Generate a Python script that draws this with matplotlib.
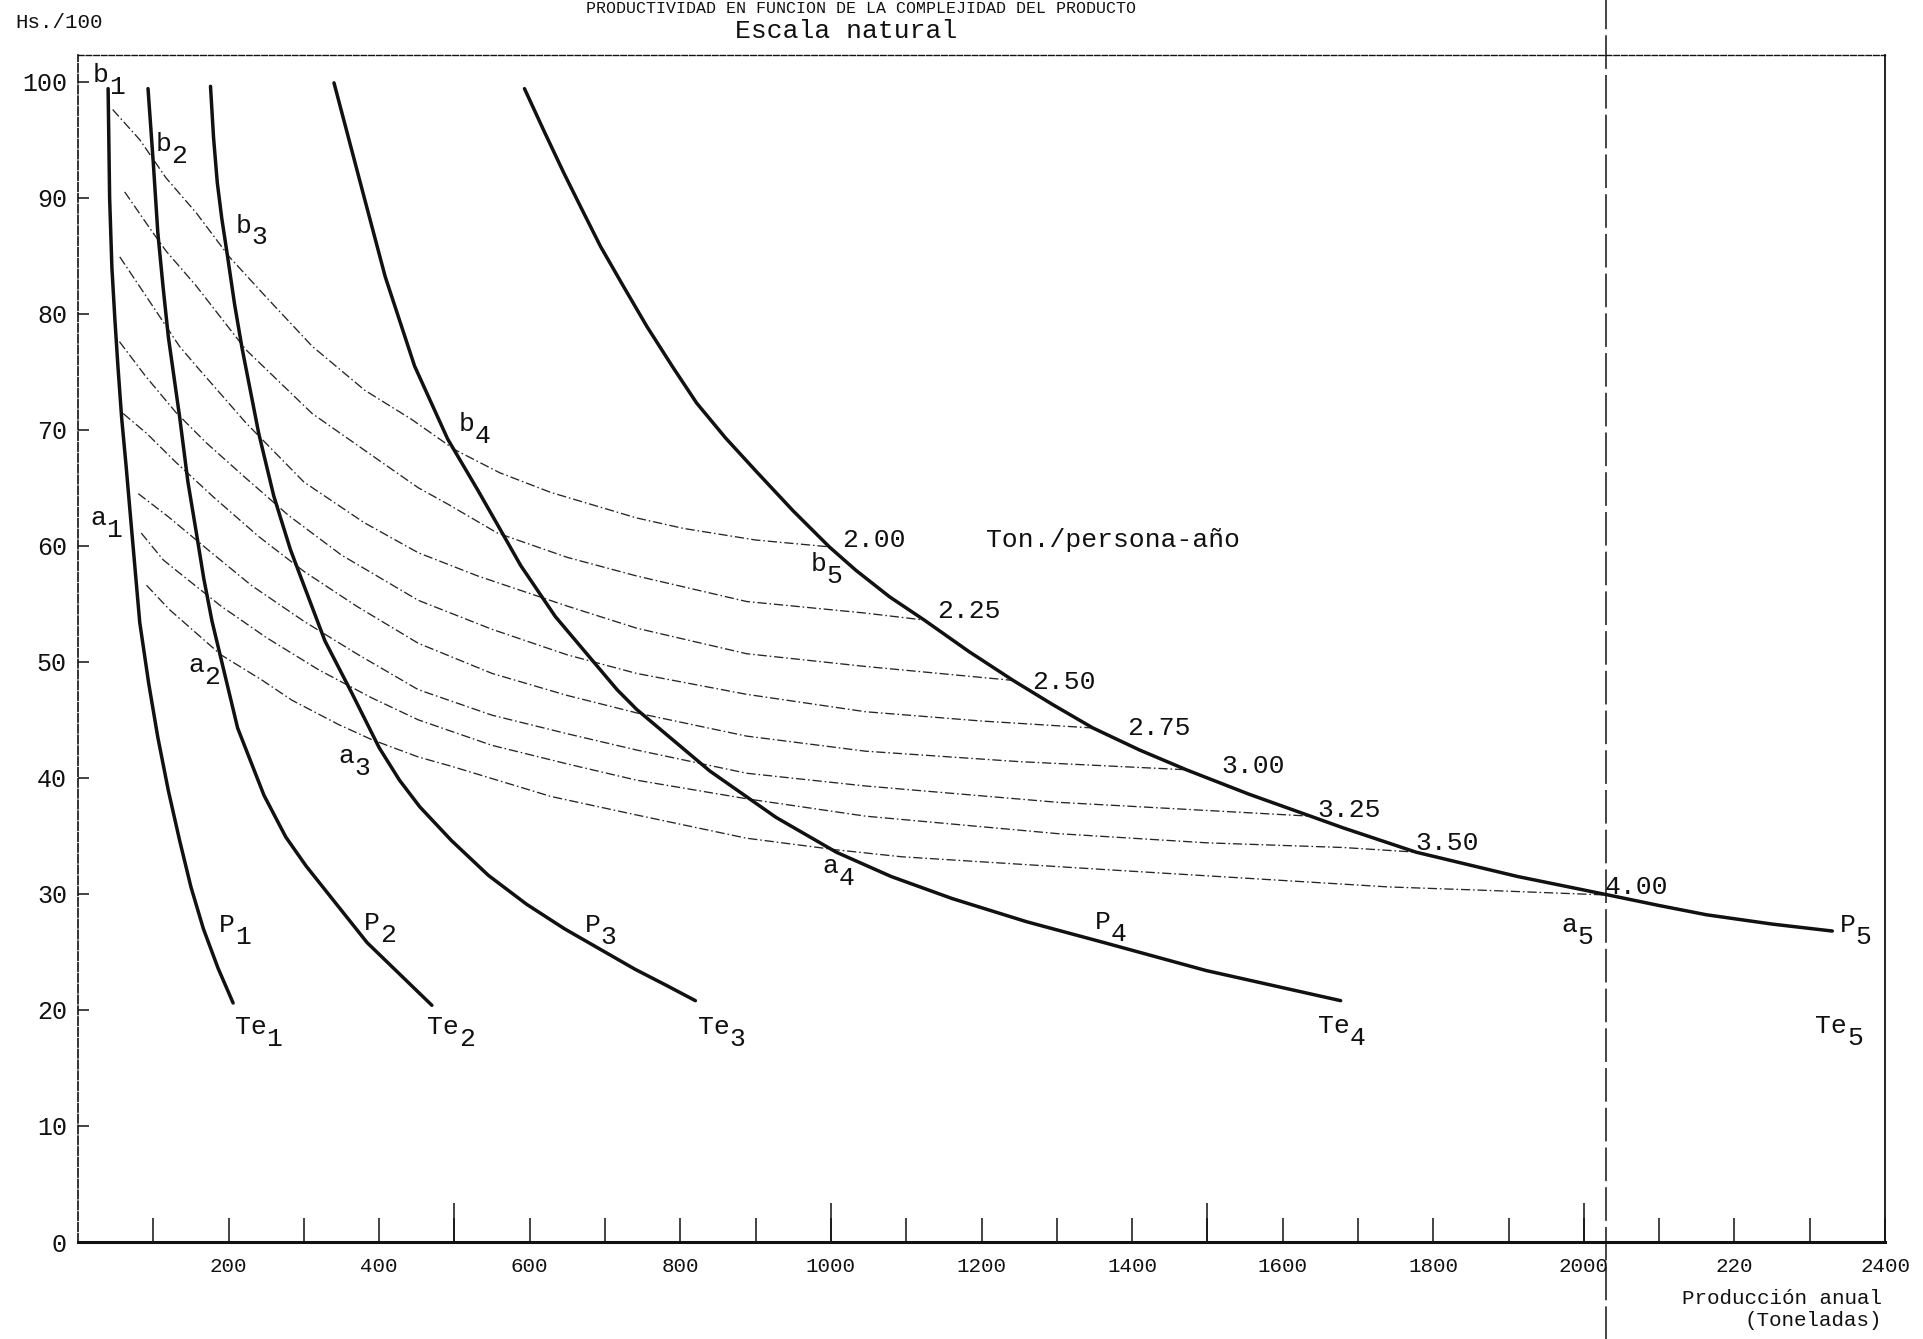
import matplotlib
matplotlib.use("Agg")
import matplotlib.pyplot as plt
from matplotlib import font_manager as fm

plt.rcParams['font.family'] = ['Liberation Mono', 'DejaVu Sans Mono']


def has_font(name):
    try:
        fm.findfont(fm.FontProperties(family=name), fallback_to_default=False)
        return True
    except Exception:
        return False


NARROW = 'Liberation Sans Narrow' if has_font('Liberation Sans Narrow') else None

# ---------------- data ----------------
# Thick curves P1..P5 (x = Producción anual [t], y = Hs./100)
p1_x = [40, 42, 45, 49, 53, 58, 64, 70, 82, 94, 106, 120, 135, 150, 166.5, 186, 206]
p1_y = [99.4, 90, 84, 79.5, 75.5, 71, 66.8, 62.3, 53.4, 48.1, 43.5, 38.9, 34.6, 30.6, 27.0, 23.6, 20.6]

p2_x = [93, 100, 106, 113, 120, 135, 146, 157, 167, 178, 188, 212, 247, 276, 303, 384, 470]
p2_y = [99.4, 93, 87, 82.3, 78, 71.1, 65.5, 61.2, 57.2, 53.5, 50.8, 44.3, 38.5, 34.9, 32.4, 25.8, 20.4]

p3_x = [176, 180, 185, 191, 198.5, 208, 218, 240, 260, 282, 293, 328, 363, 400, 427, 454, 496,
        545, 596, 646, 697, 740, 782, 820]
p3_y = [99.6, 95.2, 91.3, 88.2, 85.0, 80.8, 77, 69.7, 64.3, 59.7, 57.8, 51.8, 47.4, 42.6, 39.8, 37.5, 34.6,
        31.6, 29.1, 27.0, 25.1, 23.5, 22.1, 20.8]

p4_x = [340, 379, 408, 447, 491, 531, 560, 588, 634, 716, 742, 839, 927, 1007, 1080, 1161, 1260,
        1363, 1498, 1677]
p4_y = [99.9, 90.3, 83.2, 75.5, 69.2, 64.8, 61.5, 58.3, 53.9, 47.6, 45.9, 40.6, 36.6, 33.6, 31.5, 29.6, 27.6,
        25.8, 23.4, 20.8]

p5_x = [593, 620, 645.5, 670, 694, 725, 755.6, 790, 821.7, 860, 901, 950, 998, 1033, 1078, 1124, 1183,
        1242, 1295, 1348, 1410, 1472, 1555, 1637, 1680, 1777, 1912, 2033, 2100, 2163, 2250, 2330]
p5_y = [99.4, 95.6, 92.1, 88.9, 85.8, 82.3, 78.9, 75.4, 72.3, 69.3, 66.4, 63.0, 59.9, 57.9, 55.6, 53.6, 50.9,
        48.4, 46.3, 44.3, 42.4, 40.7, 38.6, 36.7, 35.7, 33.6, 31.5, 29.9, 29.0, 28.2, 27.4, 26.8]

# Iso-productivity lines (Ton./persona-año)
l200_x = [46, 82, 117, 157, 201, 249, 311, 381, 443, 500, 560, 628, 742, 804, 900, 1000]
l200_y = [97.6, 95, 91.7, 88.7, 84.9, 81.5, 77.2, 73.4, 70.9, 68.3, 66.3, 64.6, 62.4, 61.5, 60.5, 59.9]

l225_x = [62, 95, 117, 157, 223, 311, 399, 452, 491, 557, 650, 742, 888, 1046, 1124]
l225_y = [90.5, 87.4, 85.4, 82.4, 76.9, 71.4, 67.4, 65.0, 63.6, 61.1, 59.0, 57.4, 55.2, 54.2, 53.6]

l250_x = [55.5, 90.6, 134.7, 157, 223, 300, 380, 452, 531, 650, 742, 888, 1046, 1242]
l250_y = [84.9, 81.5, 77.2, 75.5, 70.6, 65.5, 62.0, 59.4, 57.4, 54.8, 52.9, 50.7, 49.6, 48.4]

l275_x = [55, 90, 130, 170, 220, 280, 350, 452, 550, 650, 742, 888, 1046, 1200, 1348]
l275_y = [77.6, 74.6, 71.5, 68.9, 66.0, 62.6, 59.2, 55.3, 52.8, 50.6, 49.0, 47.2, 45.7, 44.9, 44.3]

l300_x = [60, 91, 130, 180, 240, 300, 370, 452, 550, 650, 742, 888, 1046, 1250, 1472]
l300_y = [71.4, 69.7, 67.2, 64.2, 60.8, 57.8, 54.8, 51.6, 49.0, 47.1, 45.6, 43.6, 42.3, 41.4, 40.7]

l325_x = [80, 120, 170, 230, 300, 370, 452, 550, 650, 742, 888, 1046, 1300, 1637]
l325_y = [64.5, 62.5, 59.8, 56.6, 53.5, 50.7, 47.6, 45.4, 43.8, 42.4, 40.4, 39.3, 37.9, 36.7]

l350_x = [84, 113, 130, 190, 250, 320, 390, 452, 550, 650, 742, 888, 1046, 1300, 1500, 1680, 1777]
l350_y = [61.1, 58.8, 57.9, 54.8, 52.1, 49.3, 46.9, 45.0, 42.8, 41.2, 39.8, 38.2, 36.7, 35.2, 34.4, 34.0, 33.6]

l400_x = [91, 121.5, 190, 245, 284, 346, 390, 452, 496, 628, 742, 888, 1007, 1094, 1363, 1741, 1873, 2033]
l400_y = [56.6, 54.5, 50.6, 48.4, 46.7, 44.6, 43.3, 41.8, 41.0, 38.4, 36.8, 34.8, 33.8, 33.2, 32.1, 30.6, 30.3, 29.9]

prod_labels = ["2.00", "2.25", "2.50", "2.75", "3.00", "3.25", "3.50", "4.00"]

x_tick_values = [200, 400, 600, 800, 1000, 1200, 1400, 1600, 1800, 2000, 2200, 2400]
x_tick_labels = ["200", "400", "600", "800", "1000", "1200", "1400", "1600", "1800", "2000", "220", "2400"]
x_minor_values = [100, 300, 500, 700, 900, 1100, 1300, 1500, 1700, 1900, 2100, 2300]
x_long_ticks = [500, 1000, 1500, 2000]
y_tick_values = [0, 10, 20, 30, 40, 50, 60, 70, 80, 90, 100]
ref_line_x = 2030

# ---------------- figure ----------------
W, H = 1923, 1339
fig = plt.figure(figsize=(W / 100, H / 100), dpi=100)
ax = fig.add_axes([78 / W, 1 - 1242 / H, (1885 - 78) / W, (1242 - 55) / H])
ax.set_xlim(0, 2387)
ax.set_ylim(0, 102.3)

ink = '#111111'

# iso-productivity dash-dot lines
iso = [(l200_x, l200_y), (l225_x, l225_y), (l250_x, l250_y), (l275_x, l275_y),
       (l300_x, l300_y), (l325_x, l325_y), (l350_x, l350_y), (l400_x, l400_y)]
for xs, ys in iso:
    ax.plot(xs, ys, color='#262626', lw=0.95, ls=(0, (7, 2.2, 1.2, 2.2)),
            solid_capstyle='butt', zorder=2)

# thick P curves
for xs, ys in [(p1_x, p1_y), (p2_x, p2_y), (p3_x, p3_y), (p4_x, p4_y), (p5_x, p5_y)]:
    ax.plot(xs, ys, color=ink, lw=2.5, solid_capstyle='round',
            solid_joinstyle='round', zorder=3)

# vertical reference dashed line, crossing the whole sheet
ax.axvline(ref_line_x, ymin=-0.085, ymax=1.05, clip_on=False, color=ink,
           lw=1.1, ls=(0, (22, 4)), zorder=4)

FS = 19


def sublabel(x, y, main, sub, fs=FS):
    ax.text(x, y, main, ha='left', va='baseline', fontsize=fs, color=ink, zorder=5)
    ax.annotate(sub, xy=(x, y), xytext=(len(main) * 0.6 * fs, -0.45 * fs),
                textcoords='offset points', ha='left', va='baseline',
                fontsize=fs, color=ink, zorder=5)


# labels: (letter, index, x, y) left-baseline positions
point_labels = [
    ("b", "1", 20, 100.0), ("b", "2", 102.7, 94.05), ("b", "3", 209.6, 87.0),
    ("b", "4", 506, 69.9), ("b", "5", 972.6, 57.8),
    ("a", "1", 16.8, 61.8), ("a", "2", 146.4, 49.1), ("a", "3", 345.7, 41.3),
    ("a", "4", 988.9, 31.8), ("a", "5", 1970.6, 26.7),
    ("P", "1", 187, 26.7), ("P", "2", 379.7, 26.9), ("P", "3", 673, 26.7),
    ("P", "4", 1350, 27.0), ("P", "5", 2340, 26.7),
    ("Te", "1", 208, 17.9), ("Te", "2", 464, 17.9), ("Te", "3", 823.6, 17.9),
    ("Te", "4", 1646.6, 18.0), ("Te", "5", 2307.5, 18.0),
]
for main, sub, x, y in point_labels:
    sublabel(x, y, main, sub)

prod_pos = [(1014.7, 59.9), (1141, 53.8), (1267.5, 47.7), (1393.9, 43.7),
            (1518.5, 40.4), (1646.6, 36.6), (1776.2, 33.8), (2027, 30.0)]
for lab, (x, y) in zip(prod_labels, prod_pos):
    ax.text(x, y, lab, ha='left', va='baseline', fontsize=FS, color=ink, zorder=5)

ax.text(1206, 59.9, "Ton./persona-año", ha='left', va='baseline', fontsize=FS, color=ink)

# axes styling
if NARROW:
    xt_font = dict(fontfamily=[NARROW, 'Liberation Mono'], fontsize=18)
    xl_font = dict(fontfamily=[NARROW, 'Liberation Mono'], fontsize=20)
else:
    xt_font = dict(fontsize=15)
    xl_font = dict(fontsize=15)

ax.set_xticks(x_tick_values)
ax.set_xticklabels(x_tick_labels, color=ink, **xt_font)
ax.set_xticks(x_minor_values, minor=True)
ax.tick_params(axis='x', which='both', direction='in', length=17, width=1.1,
               pad=11, colors=ink, top=False)
sec = ax.secondary_xaxis('bottom')
sec.set_xticks(x_long_ticks)
sec.tick_params(axis='x', direction='in', length=28, width=1.1, labelbottom=False, colors=ink)
sec.spines['bottom'].set_visible(False)

ax.set_yticks(y_tick_values)
ax.tick_params(axis='y', direction='in', length=8, width=1.1, pad=8,
               labelsize=18, colors=ink, right=False)

ax.spines['bottom'].set_linewidth(2.2)
ax.spines['left'].set_linewidth(1.2)
ax.spines['left'].set_linestyle((0, (5, 1.5)))
ax.spines['top'].set_linewidth(1.0)
ax.spines['top'].set_linestyle((0, (4, 1.5)))
ax.spines['right'].set_linewidth(1.3)
for s in ax.spines.values():
    s.set_color(ink)

# texts around the frame
fig.text(861 / W, 1 - 13 / H, "PRODUCTIVIDAD EN FUNCION DE LA COMPLEJIDAD DEL PRODUCTO",
         ha='center', va='baseline', fontsize=12, color=ink)
fig.text(846 / W, 1 - 31 / H, "Escala natural", ha='center', va='center',
         fontsize=FS, color=ink)
fig.text(15 / W, 1 - 23 / H, "Hs./100", ha='left', va='center', color=ink, **xl_font)
fig.text(1882 / W, 1 - 1304 / H, "Producción anual", ha='right', va='baseline',
         color=ink, **xl_font)
fig.text(1882 / W, 1 - 1326 / H, "(Toneladas)", ha='right', va='baseline',
         color=ink, **xl_font)

fig.savefig("out.png", dpi=100, facecolor='white')
